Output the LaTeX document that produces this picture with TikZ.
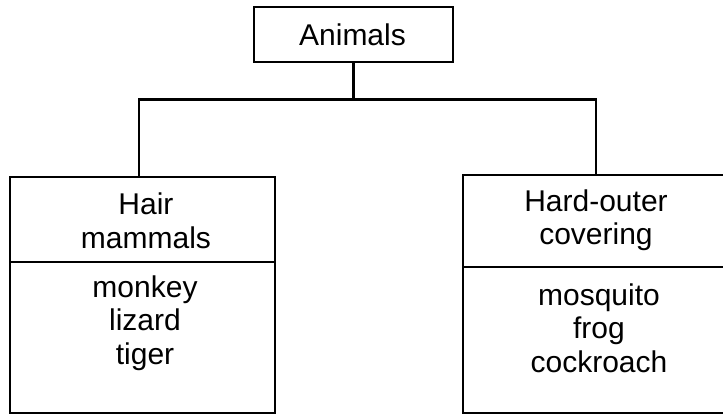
\documentclass[tikz,border=0pt]{standalone}
\usepackage{fontspec}
\setmainfont{Liberation Sans}
\begin{document}
\begin{tikzpicture}[x=1pt,y=-1pt,
  ln/.style={line width=2.3pt},
  box/.style={draw,ln,rectangle,inner sep=0pt,outer sep=0pt},
  txt/.style={align=center,font=\fontsize{30}{33.5}\selectfont,inner sep=0pt},
  top/.style={align=center,font=\fontsize{30}{33}\selectfont,inner sep=0pt}]
\useasboundingbox (0,0) rectangle (723,414);
% top box
\node[box,minimum width=199pt,minimum height=55pt] (animals) at (353.5,34.5) {};
\node[top] (animalstxt) at (352.5,35) {Animals};
% left box
\node[box,minimum width=265pt,minimum height=85pt] (hairtop) at (142.5,219.5) {};
\node[box,minimum width=265pt,minimum height=151pt] (hairbot) at (142.5,337.5) {};
\node[txt] (hairtxt) at (146,221) {Hair\\mammals};
\node[txt] (hairlist) at (145,323) {monkey\\lizard\\tiger};
% right box
\node[box,minimum width=262pt,minimum height=92pt] (hardtop) at (594,221) {};
\node[box,minimum width=262pt,minimum height=146pt] (hardbot) at (594,340) {};
\node[txt] (hardtxt) at (596,220) {Hard-outer\\covering};
\node[txt] (hardlist) at (599,328) {mosquito\\frog\\cockroach};
% connectors
\coordinate (jl) at (139,99.5);
\coordinate (jr) at (596,99.5);
\draw[ln] (animals.south) -- (animals.south |- jl);
\draw[ln,line join=miter] (jl |- hairtop.north) -- (jl) -- (jr) -- (jr |- hardtop.north);
\end{tikzpicture}
\end{document}
